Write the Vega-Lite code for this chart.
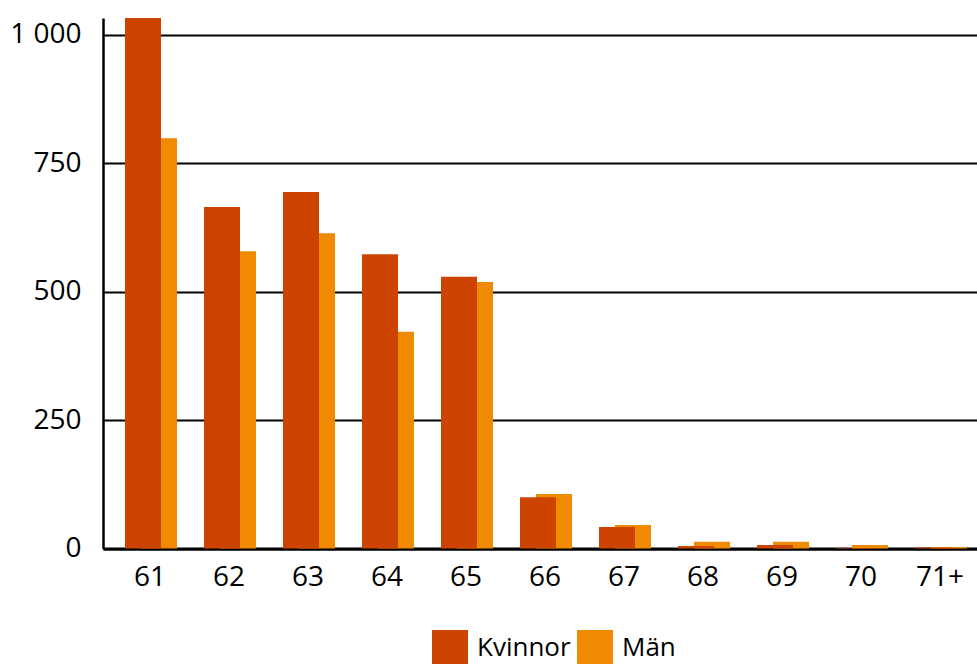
{
  "$schema": "https://vega.github.io/schema/vega-lite/v6.json",
  "width": 874,
  "height": 530.5,
  "autosize": "none",
  "padding": {"left": 103, "top": 18, "right": 0, "bottom": 115.5},
  "config": {
    "font": "Open Sans",
    "view": {"stroke": null},
    "legend": {"padding": 0}
  },
  "data": {
    "values": [
      {"age": "61", "sex": "Kvinnor", "count": 1033},
      {"age": "61", "sex": "Män", "count": 799},
      {"age": "62", "sex": "Kvinnor", "count": 665},
      {"age": "62", "sex": "Män", "count": 579},
      {"age": "63", "sex": "Kvinnor", "count": 694},
      {"age": "63", "sex": "Män", "count": 614},
      {"age": "64", "sex": "Kvinnor", "count": 573},
      {"age": "64", "sex": "Män", "count": 422},
      {"age": "65", "sex": "Kvinnor", "count": 529},
      {"age": "65", "sex": "Män", "count": 519},
      {"age": "66", "sex": "Kvinnor", "count": 100},
      {"age": "66", "sex": "Män", "count": 106},
      {"age": "67", "sex": "Kvinnor", "count": 42},
      {"age": "67", "sex": "Män", "count": 46},
      {"age": "68", "sex": "Kvinnor", "count": 5},
      {"age": "68", "sex": "Män", "count": 13},
      {"age": "69", "sex": "Kvinnor", "count": 7},
      {"age": "69", "sex": "Män", "count": 13},
      {"age": "70", "sex": "Kvinnor", "count": 1},
      {"age": "70", "sex": "Män", "count": 7},
      {"age": "71+", "sex": "Kvinnor", "count": 2},
      {"age": "71+", "sex": "Män", "count": 3}
    ]
  },
  "encoding": {
    "x": {
      "field": "age",
      "type": "ordinal",
      "sort": ["61", "62", "63", "64", "65", "66", "67", "68", "69", "70", "71+"],
      "scale": {"paddingInner": 0, "paddingOuter": 0.0316},
      "axis": {
        "title": null,
        "labelAngle": 0,
        "ticks": false,
        "domainColor": "black",
        "domainWidth": 3,
        "labelPadding": 15,
        "labelFontSize": 28,
        "labelColor": "black",
        "labelOffset": 5,
        "grid": false
      }
    },
    "y": {
      "field": "count",
      "type": "quantitative",
      "scale": {"domain": [0, 1033], "nice": false},
      "axis": {
        "title": null,
        "values": [0, 250, 500, 750, 1000],
        "labelExpr": "replace(format(datum.value, ','), ',', ' ')",
        "grid": true,
        "gridColor": "black",
        "gridWidth": 2,
        "gridOpacity": 1,
        "domainColor": "black",
        "domainWidth": 2.5,
        "ticks": false,
        "labelPadding": 22,
        "labelFontSize": 28,
        "labelColor": "black"
      }
    },
    "color": {
      "field": "sex",
      "type": "nominal",
      "scale": {"domain": ["Kvinnor", "Män"], "range": ["#CC4400", "#F08A00"]},
      "legend": {
        "title": null,
        "orient": "none",
        "legendX": 329,
        "legendY": 612,
        "direction": "horizontal",
        "symbolType": "square",
        "symbolSize": 1296,
        "symbolStrokeWidth": 0,
        "symbolOpacity": 1,
        "labelFontSize": 26,
        "labelColor": "black",
        "labelOffset": 9,
        "columnPadding": 6
      }
    }
  },
  "layer": [
    {
      "transform": [{"filter": "datum.sex === 'Män'"}],
      "mark": {"type": "bar", "width": 36, "xOffset": 14}
    },
    {
      "transform": [{"filter": "datum.sex === 'Kvinnor'"}],
      "mark": {"type": "bar", "width": 36, "xOffset": -2}
    }
  ]
}
